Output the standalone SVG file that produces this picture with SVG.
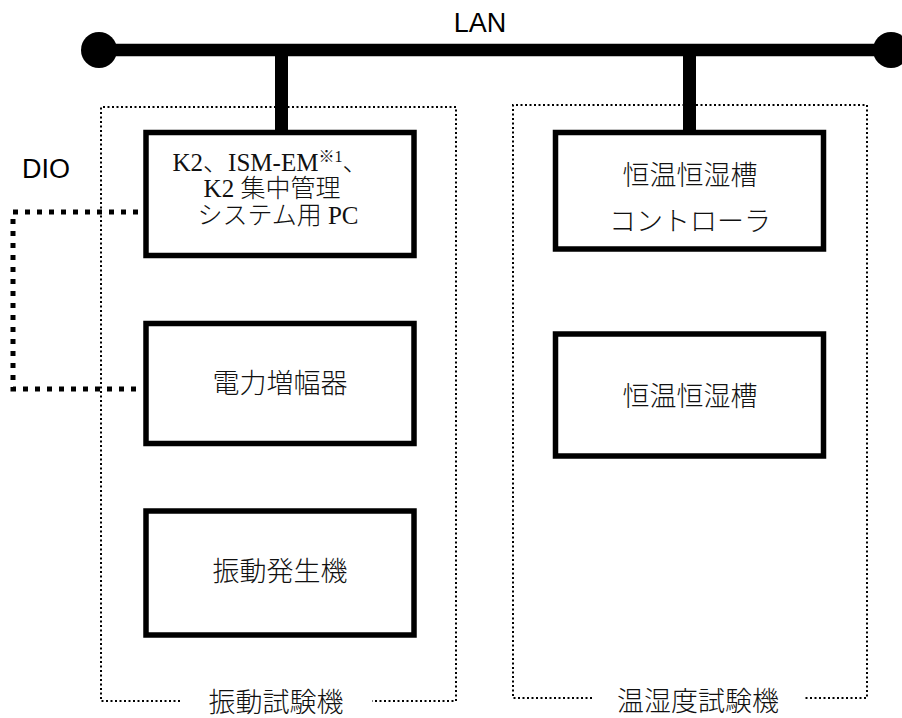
<svg xmlns="http://www.w3.org/2000/svg" width="902" height="718" viewBox="0 0 902 718">
<style>
.box{fill:#fff;stroke:#000;stroke-width:5.5}
.cont{fill:none;stroke:#000;stroke-width:2;stroke-dasharray:2 2.5}
.lan{stroke:#000;stroke-width:12.5;fill:none}
.drop{stroke:#000;stroke-width:13;fill:none}
.dio{fill:none;stroke:#000;stroke-width:5;stroke-dasharray:5 7}
.sans{font-family:"Liberation Sans","Noto Sans CJK JP",sans-serif;font-size:27px;fill:#000}
.jp{font-family:"Liberation Serif","Noto Sans CJK JP",serif;font-size:27px;fill:#111;font-weight:300}
.jps{font-family:"Liberation Serif","Noto Sans CJK JP",serif;font-size:25px;fill:#111;font-weight:300}
</style>
<rect width="902" height="718" fill="#fff"/>
<g id="container-vibration">
<path class="cont" d="M180,701 H101 V107 H456 V701 H372"/>
<text class="jp" x="276" y="712" text-anchor="middle">振動試験機</text>
</g>
<g id="container-humidity">
<path class="cont" d="M592,698 H513 V105 H867 V698 H805"/>
<text class="jp" x="698" y="711" text-anchor="middle">温湿度試験機</text>
</g>
<g id="connectors">
<line class="lan" x1="99" y1="50" x2="891" y2="50"/>
<circle cx="99" cy="50" r="18" fill="#000"/>
<circle cx="891" cy="50" r="18" fill="#000"/>
<line class="drop" x1="281.5" y1="50" x2="281.5" y2="132"/>
<line class="drop" x1="689.5" y1="50" x2="689.5" y2="132"/>
<path class="dio" d="M138,212 H13 V389 H138"/>
</g>
<text class="sans" x="480" y="32" text-anchor="middle">LAN</text>
<text class="sans" x="22" y="178">DIO</text>
<g id="pc">
<rect class="box" x="146" y="132.5" width="268" height="123"/>
<text class="jps" x="270" y="171" text-anchor="middle">K2、ISM-EM<tspan font-size="16" dy="-9">※1</tspan><tspan dy="9">、</tspan></text>
<text class="jps" x="272" y="197" text-anchor="middle">K2 集中管理</text>
<text class="jps" x="278" y="224" text-anchor="middle">システム用 PC</text>
</g>
<g id="amplifier">
<rect class="box" x="146" y="323.5" width="268" height="120"/>
<text class="jp" x="280" y="393" text-anchor="middle">電力増幅器</text>
</g>
<g id="shaker">
<rect class="box" x="146" y="511" width="268" height="124"/>
<text class="jp" x="280" y="581" text-anchor="middle">振動発生機</text>
</g>
<g id="controller">
<rect class="box" x="555.5" y="132.5" width="268" height="116.5"/>
<text class="jp" x="690" y="185" text-anchor="middle">恒温恒湿槽</text>
<text class="jp" x="690" y="231" text-anchor="middle">コントローラ</text>
</g>
<g id="chamber">
<rect class="box" x="555.5" y="334" width="268" height="122"/>
<text class="jp" x="690" y="406" text-anchor="middle">恒温恒湿槽</text>
</g>
</svg>
